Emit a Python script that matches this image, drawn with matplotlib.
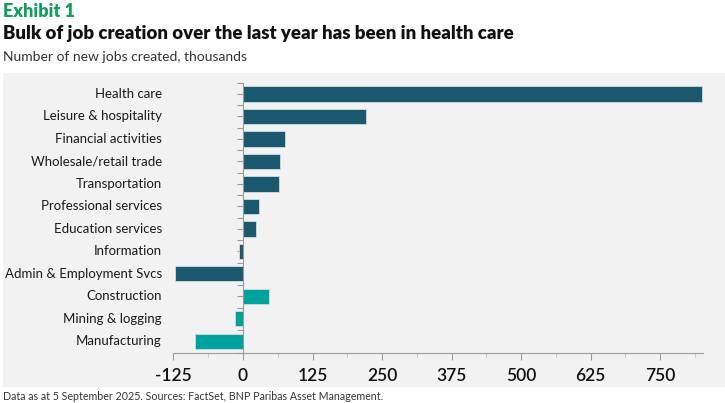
import numpy as np
import matplotlib
matplotlib.use('Agg')
import matplotlib.pyplot as plt
from matplotlib.patches import Rectangle

# dane (tys. miejsc pracy)
sectors = ['Health care', 'Leisure & hospitality', 'Financial activities',
           'Wholesale/retail trade', 'Transportation', 'Professional services',
           'Education services', 'Information', 'Admin & Employment Svcs',
           'Construction', 'Mining & logging', 'Manufacturing']
jobs = [825, 221, 75, 66, 64, 29, 23, -7, -122, 46, -15, -87]
goods = [False] * 9 + [True] * 3

xticks = [-125, 0, 125, 250, 375, 500, 625, 750]

dark = '#1a596d'
teal = '#00a29d'
green = '#139e5b'

plt.rcParams['font.family'] = ['Lato', 'DejaVu Sans']
plt.rcParams['axes.unicode_minus'] = False

fig = plt.figure(figsize=(7.25, 4.03), dpi=100)

# szare tlo panelu
fig.patches.append(Rectangle((0.004, 0.040), 0.996, 0.779, transform=fig.transFigure,
                             facecolor='#f2f2f2', edgecolor='none', zorder=-5))

ax = fig.add_axes([0.2393, 0.1253, 0.7304, 0.6694])
ax.set_facecolor('none')

y = np.arange(len(sectors))
colors = [teal if g else dark for g in goods]
ax.barh(y, jobs, height=0.68, color=colors, edgecolor='#cfdde2', linewidth=0.6, zorder=2)

ax.set_ylim(len(sectors) - 0.5, -0.5)
ax.set_xlim(-125, 827)

for s in ['top', 'right']:
    ax.spines[s].set_visible(False)
ax.spines['left'].set_position(('data', 0))
ax.spines['left'].set_color('#9a9a9a')
ax.spines['left'].set_linewidth(0.8)
ax.spines['bottom'].set_color('#9a9a9a')
ax.spines['bottom'].set_linewidth(0.8)

# znaczniki osi y: srodki i granice kategorii
ax.set_yticks(y)
ax.set_yticks(np.arange(len(sectors) + 1) - 0.5, minor=True)
ax.tick_params(axis='y', which='both', length=4, color='#9a9a9a', width=0.8, labelleft=False)

ax.set_xticks(xticks)
ax.set_xticks(np.arange(-62.5, 827, 125), minor=True)
ax.tick_params(axis='x', which='major', length=5, color='#9a9a9a', width=0.8, pad=6,
               labelsize=12.5, labelcolor='#111111')
ax.tick_params(axis='x', which='minor', length=3, color='#c8c8c8', width=0.8)
for lab in ax.get_xticklabels():
    lab.set_fontweight('semibold')

# etykiety sektorow po lewej
for yi, name in zip(y, sectors):
    ax.text(-0.022, yi, name, transform=ax.get_yaxis_transform(), ha='right', va='center',
            fontsize=9.5, color='#1a1a1a')

fig.text(0.004, 0.972, 'Exhibit 1', color=green, fontsize=13, fontweight='heavy', va='center')
fig.text(0.004, 0.916, 'Bulk of job creation over the last year has been in health care',
         color='#111111', fontsize=13.4, fontweight='heavy', va='center')
fig.text(0.004, 0.858, 'Number of new jobs created, thousands', color='#333333',
         fontsize=10, va='center')
fig.text(0.004, 0.015, 'Data as at 5 September 2025. Sources: FactSet, BNP Paribas Asset Management.',
         color='#333333', fontsize=7.7, va='center')

fig.savefig('out.png', dpi=100)
